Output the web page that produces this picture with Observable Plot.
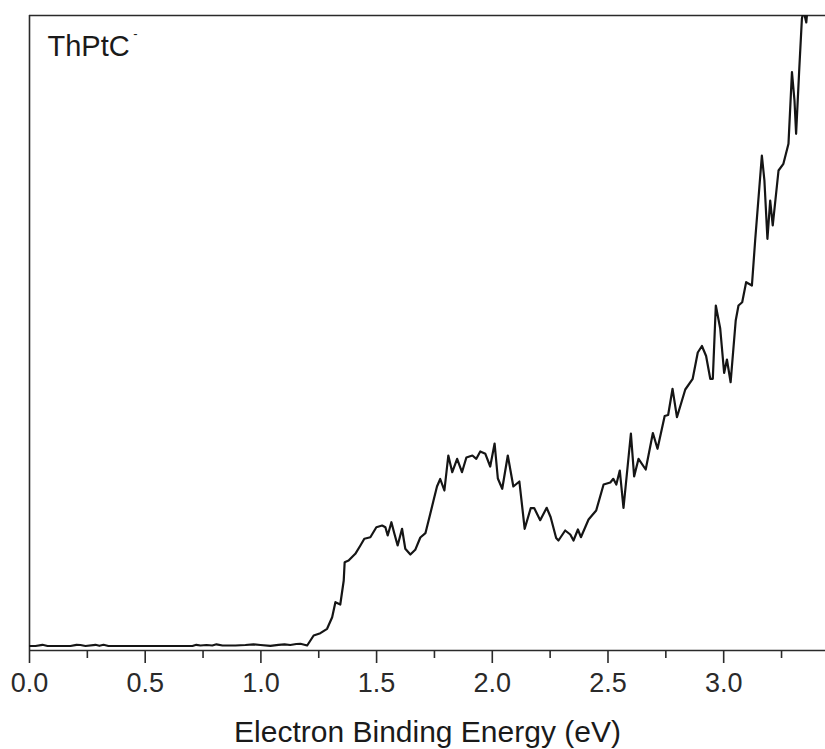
<!DOCTYPE html>
<html>
<head>
<meta charset="utf-8">
<script src="https://cdn.jsdelivr.net/npm/d3@7"></script>
<script src="https://cdn.jsdelivr.net/npm/@observablehq/plot@0.6"></script>
<style>
  html, body { margin: 0; padding: 0; background: #ffffff; }
  #chart { width: 825px; height: 749px; overflow: hidden; }
</style>
</head>
<body>
<div id="chart"></div>
<script>
// Electron binding energy (eV)
const energy = [
  0.000, 0.026, 0.056, 0.078, 0.134, 0.177, 0.203, 0.220, 0.242, 0.285,
  0.302, 0.320, 0.341, 0.523, 0.704, 0.721, 0.739, 0.765, 0.790, 0.808,
  0.834, 0.890, 0.933, 0.968, 0.998, 1.041, 1.076, 1.102, 1.127, 1.153,
  1.171, 1.200, 1.228, 1.257, 1.286, 1.308, 1.322, 1.343, 1.358, 1.362,
  1.379, 1.408, 1.430, 1.447, 1.473, 1.499, 1.524, 1.538, 1.548, 1.564,
  1.577, 1.591, 1.610, 1.624, 1.646, 1.667, 1.689, 1.711, 1.732, 1.746,
  1.761, 1.775, 1.793, 1.810, 1.827, 1.848, 1.869, 1.888, 1.914, 1.931,
  1.948, 1.970, 1.991, 2.010, 2.024, 2.043, 2.067, 2.091, 2.117, 2.140,
  2.166, 2.181, 2.207, 2.235, 2.252, 2.276, 2.286, 2.315, 2.337, 2.351,
  2.370, 2.383, 2.416, 2.449, 2.481, 2.510, 2.523, 2.536, 2.551, 2.567,
  2.599, 2.613, 2.632, 2.663, 2.694, 2.714, 2.745, 2.760, 2.779, 2.798,
  2.834, 2.866, 2.888, 2.906, 2.924, 2.942, 2.953, 2.966, 2.985, 3.002,
  3.014, 3.030, 3.052, 3.064, 3.080, 3.097, 3.122, 3.136, 3.165, 3.176,
  3.189, 3.201, 3.212, 3.237, 3.258, 3.280, 3.295, 3.306, 3.313, 3.327,
  3.338, 3.345, 3.357, 3.369
];
// Photoelectron intensity (arbitrary units)
const intensity = [
  4.5, 4.5, 5.7, 4.5, 4.5, 4.5, 5.7, 5.5, 4.5, 5.7,
  4.7, 5.7, 4.5, 4.5, 4.5, 5.7, 5.0, 5.5, 5.0, 6.2,
  5.0, 5.0, 5.5, 6.2, 5.5, 4.7, 5.7, 6.2, 5.5, 6.5,
  6.7, 5.0, 15, 17.3, 21.7, 33.3, 48.3, 46, 70, 88.3,
  90, 96.7, 105, 111.7, 113.3, 123.3, 125, 123.3, 115, 128.3,
  116.7, 105, 121.7, 101.7, 96, 100.7, 113, 117.3, 136.7, 150,
  164, 171.5, 160, 195, 178.3, 191.7, 178.3, 193, 195, 191.7,
  199, 196.7, 184, 207, 172, 161.7, 195, 164, 169, 121.7,
  142.3, 142.5, 130.3, 142.7, 133.5, 112.5, 110, 120, 116, 110,
  121, 113.3, 131, 140, 166, 168, 171.7, 166, 180, 142.5,
  217, 174, 191.7, 181, 217.5, 201.7, 234.5, 235.5, 261.7, 233.3,
  261, 271.7, 298, 304.5, 294.5, 271.7, 271.7, 345, 322, 277.5,
  291, 268.3, 330, 345, 348.3, 368.3, 365, 410, 495, 470,
  411.7, 450, 425, 480, 486.7, 506.7, 578.3, 550, 516.7, 583.3,
  631.7, 640, 628, 660
];
const majorTicks = [0, 0.5, 1.0, 1.5, 2.0, 2.5, 3.0];
const minorTicks = [0.25, 0.75, 1.25, 1.75, 2.25, 2.75, 3.25];
const xDomain = [0, 3.44];
const yDomain = [0, 635];
const speciesLabel = "ThPtC";
const chargeLabel = "-";
const xTitle = "Electron Binding Energy (eV)";

const rows = energy.map((e, i) => ({ e, v: intensity[i] }));
const ink = "#2a2a2a";

const chart = Plot.plot({
  width: 825,
  height: 749,
  marginTop: 15,
  marginLeft: 29,
  marginRight: 0,
  marginBottom: 99,
  style: { fontFamily: "'Liberation Sans', Arial, sans-serif", background: "#ffffff", color: ink, overflow: "visible" },
  x: { domain: xDomain, label: null },
  y: { domain: yDomain, axis: null },
  marks: [
    Plot.axisX(minorTicks, { tickSize: 8, tickFormat: () => "", label: null, stroke: ink, strokeWidth: 1.6 }),
    Plot.axisX(majorTicks, { tickSize: 13, tickPadding: 9, tickFormat: d3.format(".1f"), label: null, fontSize: 27, stroke: ink, strokeWidth: 1.6 }),
    Plot.ruleY([yDomain[0]], { stroke: ink, strokeWidth: 1.6 }),
    Plot.ruleY([yDomain[1]], { stroke: ink, strokeWidth: 1.6 }),
    Plot.ruleX([xDomain[0]], { stroke: ink, strokeWidth: 1.6 }),
    Plot.line(rows, { x: "e", y: "v", stroke: "#151515", strokeWidth: 2.2, clip: true }),
    Plot.text([speciesLabel], { frameAnchor: "top-left", dx: 18, dy: 20, fontSize: 29, lineAnchor: "top", textAnchor: "start", fill: "#1a1a1a" }),
    Plot.text([chargeLabel], { frameAnchor: "top-left", dx: 106, dy: 18, fontSize: 13, lineAnchor: "middle", textAnchor: "middle", fill: "#1a1a1a" }),
    Plot.text([xTitle], { frameAnchor: "bottom", dy: 82, fontSize: 30, lineAnchor: "middle", textAnchor: "middle", fill: "#1a1a1a" })
  ]
});
document.getElementById("chart").appendChild(chart);
</script>
</body>
</html>
